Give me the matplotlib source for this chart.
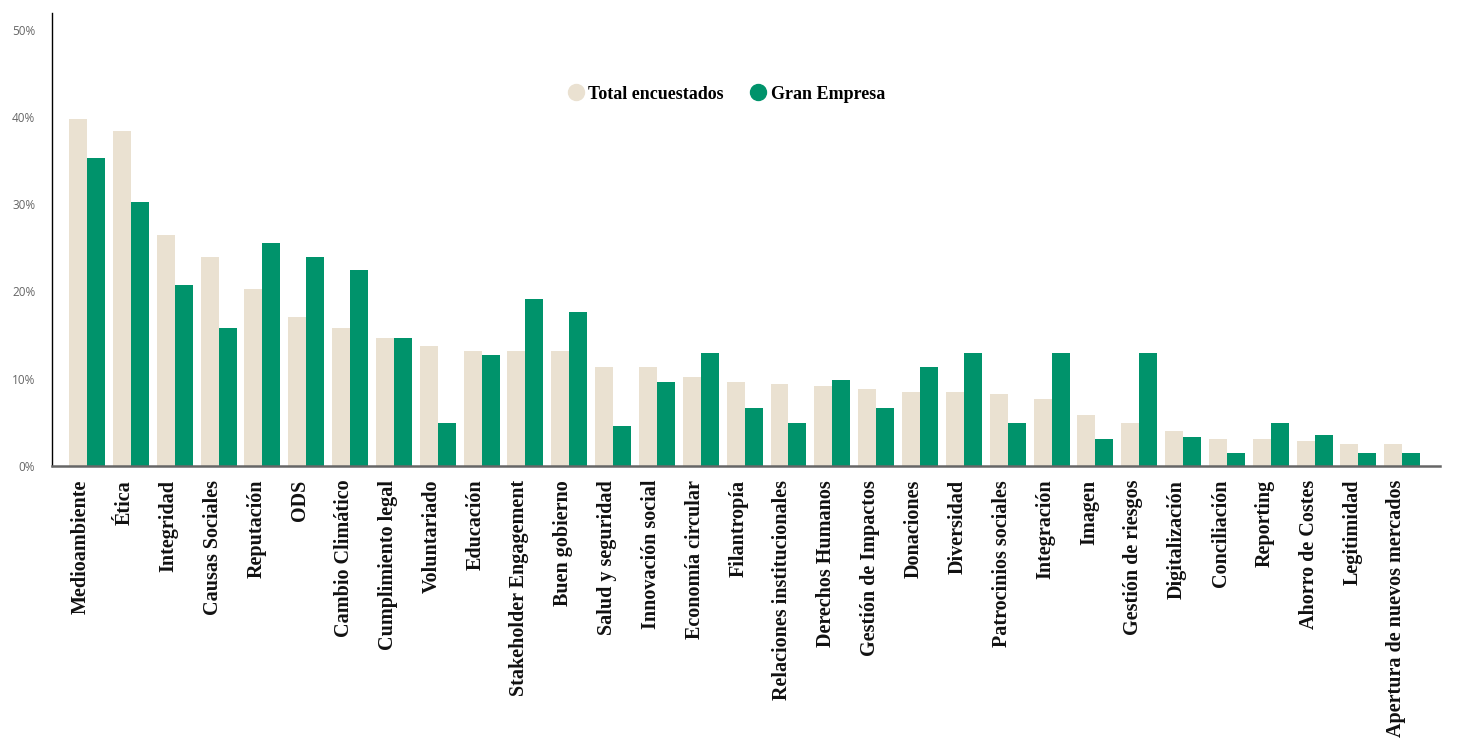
import numpy as np
import matplotlib.pyplot as plt
import matplotlib.transforms as mtransforms
from matplotlib.lines import Line2D

# Temas de sostenibilidad (% de menciones)
temas = ["Medioambiente", "Ética", "Integridad", "Causas Sociales", "Reputación",
         "ODS", "Cambio Climático", "Cumplimiento legal", "Voluntariado", "Educación",
         "Stakeholder Engagement", "Buen gobierno", "Salud y seguridad",
         "Innovación social", "Economía circular", "Filantropía",
         "Relaciones institucionales", "Derechos Humanos", "Gestión de Impactos",
         "Donaciones", "Diversidad", "Patrocinios sociales", "Integración", "Imagen",
         "Gestión de riesgos", "Digitalización", "Conciliación", "Reporting",
         "Ahorro de Costes", "Legitimidad", "Apertura de nuevos mercados"]

total_encuestados = [39.7, 38.4, 26.5, 23.9, 20.3, 17.1, 15.8, 14.7, 13.7, 13.2,
                     13.2, 13.2, 11.3, 11.3, 10.2, 9.6, 9.4, 9.2, 8.8, 8.5, 8.5,
                     8.2, 7.7, 5.8, 4.9, 4.0, 3.1, 3.1, 2.9, 2.5, 2.5]
gran_empresa = [35.3, 30.2, 20.7, 15.8, 25.5, 23.9, 22.5, 14.7, 4.9, 12.7,
                19.1, 17.6, 4.6, 9.6, 12.9, 6.6, 4.9, 9.9, 6.6, 11.3, 12.9,
                4.9, 12.9, 3.1, 12.9, 3.3, 1.5, 4.9, 3.5, 1.5, 1.5]

yticks = [0, 10, 20, 30, 40, 50]

beige = "#EAE1D1"
verde = "#00936B"

fig = plt.figure(figsize=(14.67, 7.44), dpi=100)
ax = fig.add_axes([0.0354, 0.3737, 0.9462, 0.6088])

x = np.arange(len(temas))
w = 0.41
ax.bar(x - w / 2, total_encuestados, w, color=beige, zorder=2)
ax.bar(x + w / 2, gran_empresa, w, color=verde, zorder=2)

ax.set_xlim(-0.8, len(temas) - 1 + 0.86)
ax.set_ylim(0, 51.9)

ax.set_yticks(yticks)
ax.set_yticklabels([f"{v}%" for v in yticks], fontsize=8.5, color="#666666",
                   family="Open Sans")
ax.tick_params(axis="y", length=0, pad=12)

ax.set_xticks(x)
ax.set_xticklabels(temas, rotation=90, ha="center", va="top", fontsize=14.5,
                   fontweight="bold", family="Liberation Serif", color="#111111")
ax.tick_params(axis="x", length=0, pad=10)
shift = mtransforms.ScaledTranslation(-6 / 100, 0, fig.dpi_scale_trans)
for lbl in ax.get_xticklabels():
    lbl.set_transform(lbl.get_transform() + shift)

for s in ["top", "right"]:
    ax.spines[s].set_visible(False)
ax.spines["left"].set_color("black")
ax.spines["left"].set_linewidth(1)
ax.spines["bottom"].set_color("#666666")
ax.spines["bottom"].set_linewidth(1.8)
ax.spines["bottom"].set_zorder(3)

handles = [Line2D([], [], marker="o", linestyle="", markersize=11.5,
                  markerfacecolor=beige, markeredgecolor=beige),
           Line2D([], [], marker="o", linestyle="", markersize=11.5,
                  markerfacecolor=verde, markeredgecolor=verde)]
ax.legend(handles, ["Total encuestados", "Gran Empresa"], loc="center",
          bbox_to_anchor=(0.485, 0.821), ncol=2, frameon=False,
          prop={"family": "Liberation Serif", "weight": "bold", "size": 13},
          handletextpad=0.1, columnspacing=1.3, handlelength=1.2)

fig.savefig("out.png", dpi=100)
